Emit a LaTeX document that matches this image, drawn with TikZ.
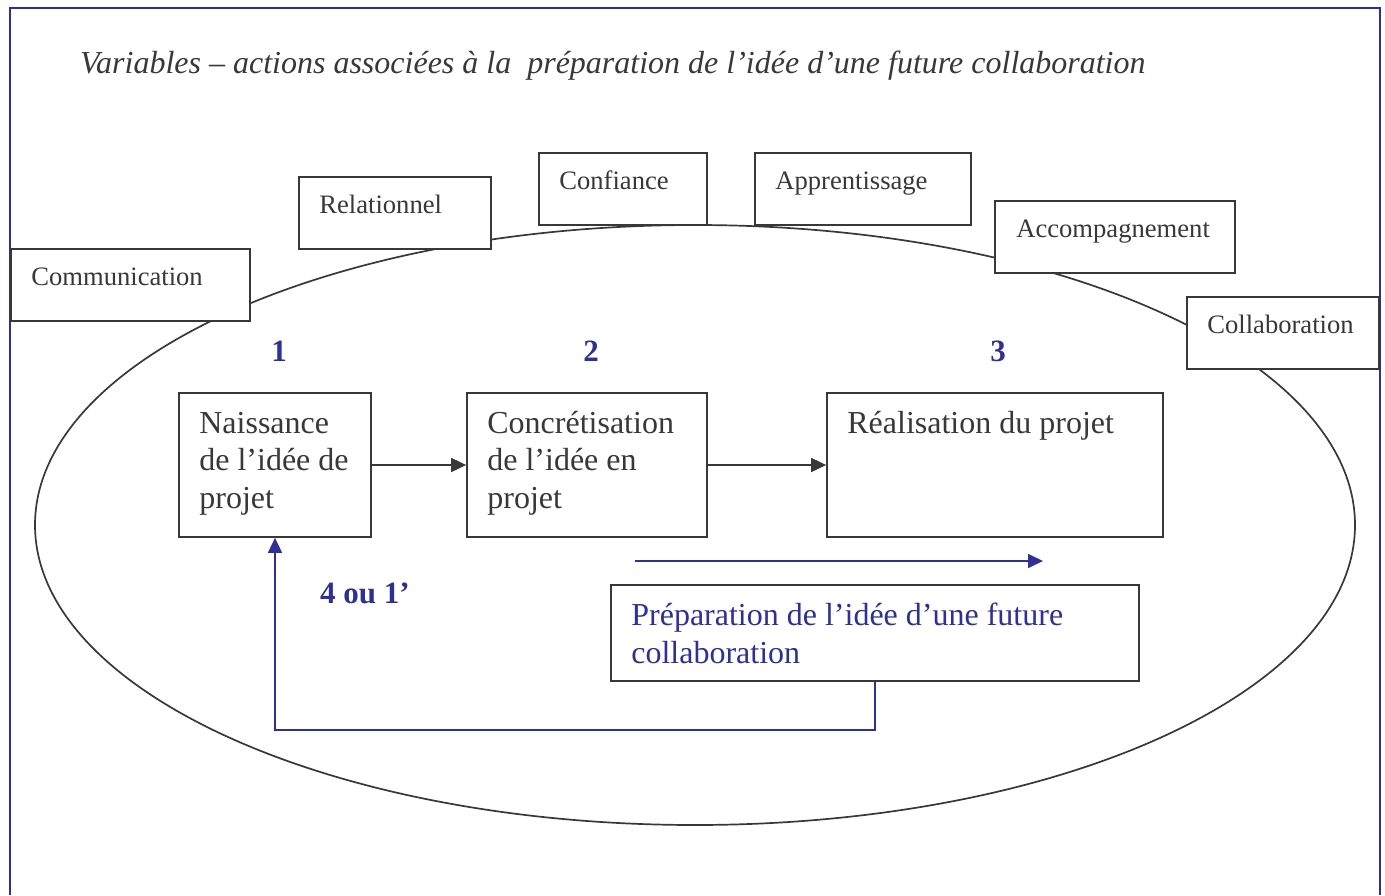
\documentclass[tikz,border=0pt]{standalone}
\usepackage{fontspec}
\setmainfont{Liberation Serif}
\usetikzlibrary{arrows.meta,calc}
\definecolor{navy}{HTML}{2E3192}
\definecolor{ink}{HTML}{383838}
\begin{document}
\begin{tikzpicture}[x=1pt,y=-1pt,
  box/.style={draw=ink, line width=1.7pt, fill=white, inner sep=0pt},
  lbl/.style={anchor=base west, inner sep=0pt, text=ink, font=\fontsize{26.6}{30}\selectfont},
  big/.style={anchor=base west, inner sep=0pt, text=ink, font=\fontsize{32}{37.5}\selectfont},
  bbig/.style={anchor=base west, inner sep=0pt, text=navy, font=\fontsize{32}{37.5}\selectfont},
  num/.style={anchor=base, inner sep=0pt, text=navy, font=\fontsize{31}{36}\selectfont\bfseries},
  flow/.style={draw=ink, line width=1.7pt, -{Triangle[length=15pt,width=14pt]}},
  bflow/.style={draw=navy, line width=1.7pt, -{Triangle[length=15pt,width=14pt]}}]
\useasboundingbox (0,0) rectangle (1385,895);
% frame
\draw[navy, line width=1.5pt] (10,895) -- (10,8) -- (1380,8) -- (1380,895);
% title
\node[anchor=base west, inner sep=0pt, text=ink, font=\fontsize{32}{36}\selectfont\itshape] (title) at (80,73)
  {Variables -- actions associées à la\ \ préparation de l’idée d’une future collaboration};
% ellipse
\draw[ink, line width=1.7pt] (695,525) ellipse [x radius=660pt, y radius=300pt];
% variable boxes
\node[box, minimum width=239pt, minimum height=72pt] (comm) at (130.5,285) {};
\node[lbl] (commt) at ($(comm.north west)+(21,37)$) {Communication};
\node[box, minimum width=192pt, minimum height=72pt] (rel) at (395,213) {};
\node[lbl] (relt) at ($(rel.north west)+(21,37)$) {Relationnel};
\node[box, minimum width=168pt, minimum height=72pt] (conf) at (623,189) {};
\node[lbl] (conft) at ($(conf.north west)+(21,37)$) {Confiance};
\node[box, minimum width=216pt, minimum height=72pt] (app) at (863,189) {};
\node[lbl] (appt) at ($(app.north west)+(21,37)$) {Apprentissage};
\node[box, minimum width=240pt, minimum height=72pt] (acc) at (1115,237) {};
\node[lbl] (acct) at ($(acc.north west)+(22,37)$) {Accompagnement};
\node[box, minimum width=192pt, minimum height=72pt] (col) at (1283,333) {};
\node[lbl] (colt) at ($(col.north west)+(21,37)$) {Collaboration};
% numbers
\node[num] (n1) at (279,361) {1};
\node[num] (n2) at (591,361) {2};
\node[num] (n3) at (998,361) {3};
\node[num, anchor=base west] (n4) at (320,603) {4 ou 1’};
% main boxes
\node[box, minimum width=192pt, minimum height=144pt] (nai) at (275,465) {};
\node[big] (nai1) at ($(nai.north west)+(21,41)$) {Naissance};
\node[big] (nai2) at ($(nai.north west)+(21,78.5)$) {de l’idée de};
\node[big] (nai3) at ($(nai.north west)+(21,116)$) {projet};
\node[box, minimum width=240pt, minimum height=144pt] (con) at (587,465) {};
\node[big] (con1) at ($(con.north west)+(21,41)$) {Concrétisation};
\node[big] (con2) at ($(con.north west)+(21,78.5)$) {de l’idée en};
\node[big] (con3) at ($(con.north west)+(21,116)$) {projet};
\node[box, minimum width=336pt, minimum height=144pt] (rea) at (995,465) {};
\node[big] (rea1) at ($(rea.north west)+(21,41)$) {Réalisation du projet};
\node[box, minimum width=528pt, minimum height=96pt] (prep) at (875,633) {};
\node[bbig] (prep1) at ($(prep.north west)+(21,41)$) {Préparation de l’idée d’une future};
\node[bbig] (prep2) at ($(prep.north west)+(21,79)$) {collaboration};
% connectors
\draw[flow] (nai.east) -- (con.west);
\draw[flow] (con.east) -- (rea.west);
\coordinate (ba) at (635,561);
\coordinate (bb) at (1043,561);
\draw[bflow] (ba) -- (bb);
\draw[bflow] (prep.south) -- ++(0,48) -| (nai.south);
\end{tikzpicture}
\end{document}
